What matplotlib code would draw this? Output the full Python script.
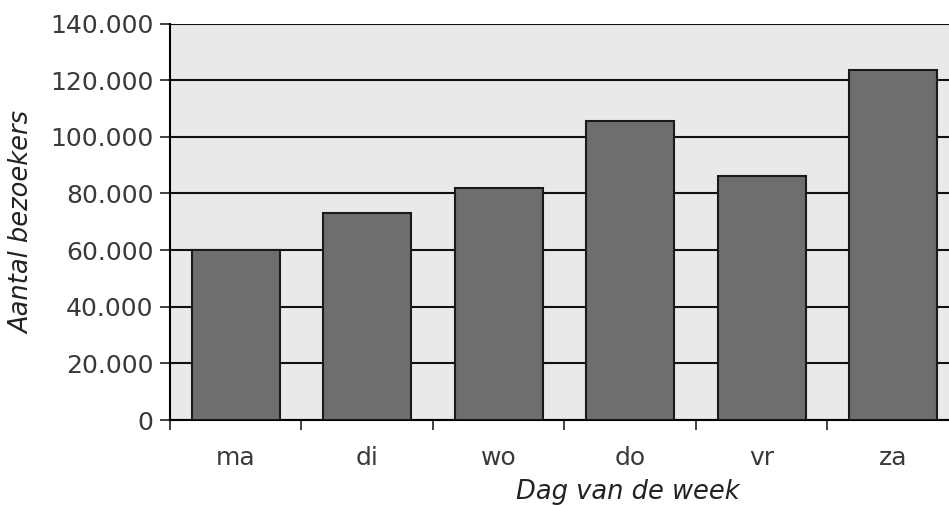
import numpy as np
import matplotlib
matplotlib.use('Agg')
import matplotlib.pyplot as plt
from matplotlib.ticker import FuncFormatter

dagen = ['ma', 'di', 'wo', 'do', 'vr', 'za']
bezoekers = [60000, 73000, 82000, 105500, 86000, 123500]
yticks = [0, 20000, 40000, 60000, 80000, 100000, 120000, 140000]

plt.rcParams['font.family'] = 'DejaVu Sans'

fig = plt.figure(figsize=(9.49, 5.05), dpi=100)
ax = fig.add_axes([0.1791, 0.1683, 0.8314, 0.785])
ax.set_facecolor('#e9e9e9')

x = np.arange(len(dagen))
ax.bar(x, bezoekers, width=0.67, color='#6e6e6e', edgecolor='#1a1a1a',
       linewidth=1.5, zorder=3)

ax.set_xlim(-0.5, len(dagen) - 0.5)
ax.set_ylim(0, 140000)
ax.set_yticks(yticks)
ax.yaxis.set_major_formatter(FuncFormatter(lambda v, p: '{:,.0f}'.format(v).replace(',', '.')))
ax.grid(axis='y', color='#111111', linewidth=1.5, zorder=1)

# tick marks between the days, labels centred on the bars
ax.set_xticks(np.arange(len(dagen) + 1) - 0.5)
ax.set_xticklabels([])
ax.set_xticks(x, minor=True)
ax.set_xticklabels(dagen, minor=True)
ax.tick_params(axis='x', which='major', length=7, width=1.2, color='#222222')
ax.tick_params(axis='x', which='minor', length=0, pad=19, labelsize=18, labelcolor='#3a3a3a')
ax.tick_params(axis='y', length=7, width=1.2, color='#222222', labelsize=18,
               labelcolor='#3a3a3a', pad=5)

for s in ['top', 'right']:
    ax.spines[s].set_visible(False)
ax.spines['left'].set_linewidth(1.5)
ax.spines['bottom'].set_linewidth(1.5)

fig.text(0.024, 0.56, 'Aantal bezoekers', rotation=90, style='italic',
         fontsize=18.5, color='#222222', ha='center', va='center')
fig.text(0.662, 0.026, 'Dag van de week', style='italic',
         fontsize=18.5, color='#222222', ha='center', va='center')

fig.savefig('out.png', dpi=100)
